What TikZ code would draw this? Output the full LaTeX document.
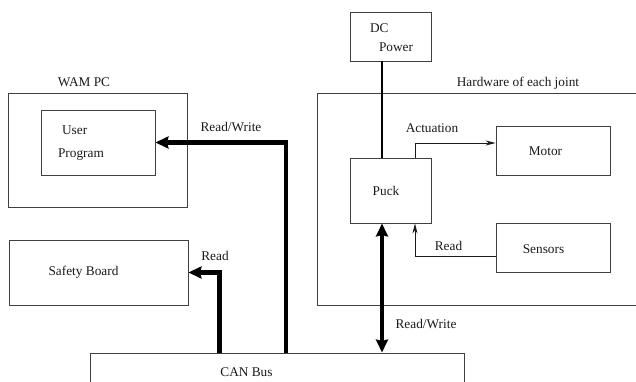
\documentclass[tikz,border=0pt]{standalone}
\usepackage{fontspec}
\setmainfont{Liberation Serif}
\newfontfamily\timesfont{Liberation Serif}
\usepackage{tikz}
\usetikzlibrary{arrows.meta,positioning}
\definecolor{ink}{HTML}{1A1A1A}
\definecolor{rule}{HTML}{404040}
\tikzset{
  box/.style={rectangle, draw=rule, line width=0.9pt, fill=white, inner sep=0pt},
  txt/.style={font=\timesfont\fontsize{13.3}{16}\selectfont, text=ink, align=left},
  fl/.style={-{Stealth[length=10pt,width=5pt]}, draw=ink, line width=0.9pt},
  bus/.style={-{Stealth[length=13pt,width=12pt,inset=1.5pt]}, draw=black, line width=4.2pt},
  busx/.style={{Stealth[length=13pt,width=12pt,inset=1.5pt]}-{Stealth[length=13pt,width=12pt,inset=1.5pt]}, draw=black, line width=4.2pt},
  pwr/.style={draw=black, line width=1.7pt},
  lbl/.style={txt, inner sep=0pt}
}

\begin{document}
\begin{tikzpicture}[x=1pt, y=-1pt]
  \clip (0,0) rectangle (636,382);
  % left side: PC and safety board
  \node[box, minimum width=179pt, minimum height=114pt] (wampc) at (97.5,150) {};
  \node[box, minimum width=114pt, minimum height=65pt,
        label={[txt, xshift=-17pt, yshift=-1pt]center:\hspace{4pt}User\\[7pt]Program}] (user) at (98,142.5) {};
  \node[box, minimum width=179pt, minimum height=65pt,
        label={[txt, xshift=-15pt]center:Safety Board}] (safety) at (98.5,272.5) {};
  \node[lbl] (pclbl) at (84,82) {WAM PC};

  % right side: joint hardware
  \node[box, minimum width=330pt, minimum height=212pt] (joint) at (482,199) {};
  \node[lbl] (jointlbl) at (518,83) {Hardware of each joint};
  \node[box, minimum width=81pt, minimum height=49pt,
        label={[txt, xshift=1pt, yshift=-1.5pt]center:DC\\[3pt]\hspace{9pt}Power}] (dc) at (390.5,36.5) {};
  \node[box, minimum width=81pt, minimum height=65pt,
        label={[txt, xshift=-4.5pt]center:Puck}] (puck) at (390.5,190.5) {};
  \node[box, minimum width=114pt, minimum height=49pt,
        label={[txt, xshift=-7.5pt, yshift=-1pt]center:Motor}] (motor) at (553,150.5) {};
  \node[box, minimum width=114pt, minimum height=49pt,
        label={[txt, xshift=-9.5pt, yshift=-2pt]center:Sensors}] (sensors) at (553,247.5) {};

  % bus
  \node[box, minimum width=374pt, minimum height=70pt,
        label={[txt, xshift=-30.5pt, yshift=15.5pt]center:CAN Bus}] (can) at (277,388) {};
  \coordinate (rwx) at (382,0);

  % connectors
  \draw[pwr] (dc.south -| rwx) -- (puck.north -| rwx);
  \draw[fl] ([xshift=24.5pt]puck.north) |- ([yshift=7.5pt]motor.west);
  \draw[fl] ([yshift=-8.5pt]sensors.west) -| ([xshift=24.5pt]puck.south);
  \draw[bus] ([xshift=9pt]can.north) |- (user.east);
  \draw[bus] ([xshift=-57.5pt]can.north) |- (safety.east);
  \draw[busx] (puck.south -| rwx) -- (can.north -| rwx);

  \node[lbl] (actlbl) at (432,128) {Actuation};
  \node[lbl] (rdlbl) at (448.5,246) {Read};
  \node[lbl] (rwlbl) at (231,127) {Read/Write};
  \node[lbl] (sblbl) at (215,256) {Read};
  \node[lbl] (rw2lbl) at (426,324) {Read/Write};
\end{tikzpicture}
\end{document}
